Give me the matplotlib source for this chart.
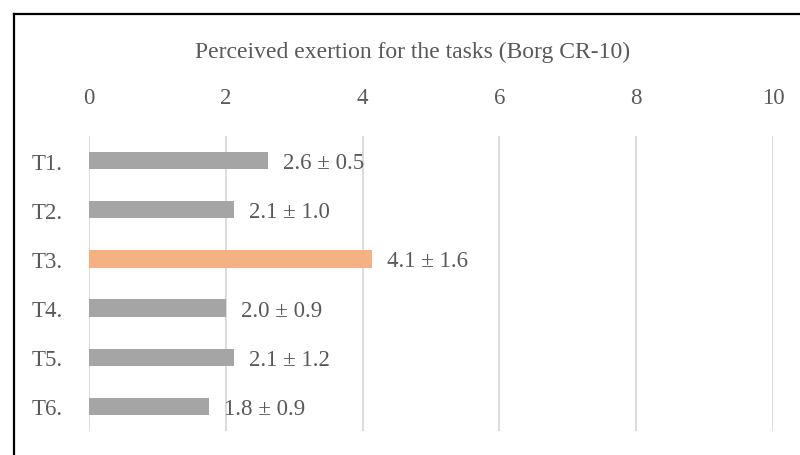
import matplotlib.pyplot as plt
from matplotlib.lines import Line2D

# data
tasks = ['T1.', 'T2.', 'T3.', 'T4.', 'T5.', 'T6.']
means = [2.62, 2.12, 4.14, 2.0, 2.12, 1.75]
labels = ['2.6 ± 0.5', '2.1 ± 1.0', '4.1 ± 1.6', '2.0 ± 0.9', '2.1 ± 1.2', '1.8 ± 0.9']
highlight = 'T3.'
xticks = [0, 2, 4, 6, 8, 10]

GRAY = '#A5A5A5'
ORANGE = '#F4B183'
TXT = '#595959'
GRID = '#D9D9D9'
FS = 16.5

plt.rcParams['font.family'] = ['Liberation Serif', 'DejaVu Serif']

W, H = 800, 456
fig = plt.figure(figsize=(W / 100, H / 100), dpi=100)
# axes placed in pixel terms
x0, x1 = 89, 773
y0, y1 = 137, 432
ax = fig.add_axes([x0 / W, 1 - y1 / H, (x1 - x0) / W, (y1 - y0) / H])

colors = [ORANGE if t == highlight else GRAY for t in tasks]
ypos = list(range(len(tasks)))
ax.barh(ypos, means, height=0.35, color=colors, zorder=3)

for y, v, lab in zip(ypos, means, labels):
    ax.annotate(lab, (v, y), xytext=(15 * 0.72, -2 * 0.72), textcoords='offset points',
                ha='left', va='center', fontsize=FS, color=TXT)

ax.set_xlim(0, 10)
ax.set_ylim(len(tasks) - 0.5, -0.5)
ax.set_yticks(ypos)
ax.set_yticklabels(tasks)
ax.set_xticks(xticks)
ax.xaxis.tick_top()
ax.tick_params(axis='x', length=0, pad=20, labelsize=FS, labelcolor=TXT)
ax.tick_params(axis='y', length=0, pad=19, labelsize=FS, labelcolor=TXT)
ax.grid(axis='x', color=GRID, linewidth=1.3, zorder=0)
for s in ax.spines.values():
    s.set_visible(False)

fig.text(413 / W, 1 - 52 / H, 'Perceived exertion for the tasks (Borg CR-10)',
         ha='center', va='center', fontsize=17, color=TXT)

# outer frame (left and top edges visible in the crop)
fig.add_artist(Line2D([14 / W, 14 / W], [0, 1 - 14.5 / H], color='black', lw=1.6,
                      transform=fig.transFigure))
fig.add_artist(Line2D([13.5 / W, 1], [1 - 14.5 / H, 1 - 14.5 / H], color='black', lw=1.6,
                      transform=fig.transFigure))

fig.savefig('out.png', dpi=100)
